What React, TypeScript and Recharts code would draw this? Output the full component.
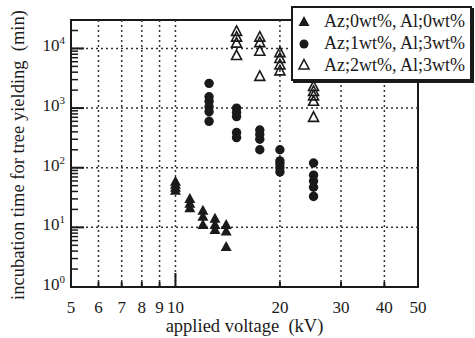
import { ScatterChart, Scatter, XAxis, YAxis, ReferenceLine, ReferenceArea } from "recharts";

// applied voltage (kV) vs incubation time (min)
const az0al0 = [
  { v: 10, t: 58 }, { v: 10, t: 52 }, { v: 10, t: 46 }, { v: 10, t: 41 },
  { v: 11, t: 30 }, { v: 11, t: 25 }, { v: 11, t: 21 },
  { v: 12, t: 19 }, { v: 12, t: 15 }, { v: 12, t: 11 },
  { v: 13, t: 14 }, { v: 13, t: 11 }, { v: 13, t: 9 },
  { v: 14, t: 11 }, { v: 14, t: 8.5 }, { v: 14, t: 4.7 },
];

const az1al3 = [
  { v: 12.5, t: 2600 }, { v: 12.5, t: 1550 }, { v: 12.5, t: 1300 }, { v: 12.5, t: 1050 }, { v: 12.5, t: 870 }, { v: 12.5, t: 600 },
  { v: 15, t: 1000 }, { v: 15, t: 850 }, { v: 15, t: 720 }, { v: 15, t: 390 }, { v: 15, t: 320 },
  { v: 17.5, t: 430 }, { v: 17.5, t: 360 }, { v: 17.5, t: 300 }, { v: 17.5, t: 200 },
  { v: 20, t: 200 }, { v: 20, t: 130 }, { v: 20, t: 115 }, { v: 20, t: 100 }, { v: 20, t: 85 },
  { v: 25, t: 120 }, { v: 25, t: 75 }, { v: 25, t: 60 }, { v: 25, t: 47 }, { v: 25, t: 33 },
];

const az2al3 = [
  { v: 15, t: 19300 }, { v: 15, t: 15500 }, { v: 15, t: 12300 }, { v: 15, t: 7600 },
  { v: 17.5, t: 15500 }, { v: 17.5, t: 12500 }, { v: 17.5, t: 9000 }, { v: 17.5, t: 3400 },
  { v: 20, t: 8500 }, { v: 20, t: 6800 }, { v: 20, t: 5300 }, { v: 20, t: 4200 },
  { v: 25, t: 2300 }, { v: 25, t: 1900 }, { v: 25, t: 1600 }, { v: 25, t: 1300 }, { v: 25, t: 700 },
];

const xTicks = [5, 6, 7, 8, 9, 10, 20, 30, 40, 50];
const xGrid = [6, 7, 8, 9, 10, 20, 30, 40];
const yMajor = [1, 10, 100, 1000, 10000];
const yMinor = [
  2, 3, 4, 5, 6, 7, 8, 9,
  20, 30, 40, 50, 60, 70, 80, 90,
  200, 300, 400, 500, 600, 700, 800, 900,
  2000, 3000, 4000, 5000, 6000, 7000, 8000, 9000,
  20000, 30000,
];
const yGrid = [10, 100, 1000, 10000];

const names = ["Az;0wt%, Al;0wt%", "Az;1wt%, Al;3wt%", "Az;2wt%, Al;3wt%"];

const ink = "#1a1a1a";
const font = "'Liberation Serif', 'Times New Roman', serif";

// plot frame edges (from the margins / axis sizes below)
const plotLeft = 71;
const plotBottom = 287;

const FilledTri = (p: any) => (
  <polygon points={`${p.cx},${p.cy - 6} ${p.cx + 5.5},${p.cy + 4} ${p.cx - 5.5},${p.cy + 4}`} fill={ink} />
);
const OpenTri = (p: any) => (
  <polygon points={`${p.cx},${p.cy - 5.5} ${p.cx + 5},${p.cy + 4} ${p.cx - 5},${p.cy + 4}`} fill="none" stroke={ink} strokeWidth={1.6} />
);
const Dot = (p: any) => <circle cx={p.cx} cy={p.cy} r={4.7} fill={ink} />;

const XTick = (p: any) => {
  const v = p.payload.value;
  const len = v === 10 ? 14 : v === 5 || v === 50 ? 0 : 5;
  return (
    <g>
      {len > 0 && <line x1={p.x} x2={p.x} y1={plotBottom} y2={plotBottom - len} stroke={ink} strokeWidth={2} />}
      <text x={p.x} y={plotBottom + 26} textAnchor="middle" fontSize={17} fontFamily={font} fill={ink}>
        {v}
      </text>
    </g>
  );
};

const YTick = (p: any) => {
  const v = p.payload.value;
  const e = Math.round(Math.log10(v));
  const major = yMajor.includes(v);
  return (
    <g>
      <line x1={plotLeft} x2={plotLeft + (major ? 13 : 7)} y1={p.y} y2={p.y} stroke={ink} strokeWidth={major ? 2 : 1.5} />
      {major && (
        <text x={plotLeft - 6} y={p.y + 3} textAnchor="end" fontSize={17} fontFamily={font} fill={ink}>
          10<tspan dy={-7} fontSize={11}>{e}</tspan>
        </text>
      )}
    </g>
  );
};

const LegendBox = () => (
  <div
    style={{
      position: "absolute",
      left: 291,
      top: 6,
      width: 177,
      height: 68,
      border: `2px solid ${ink}`,
      boxShadow: `2px 2px 0 ${ink}`,
      background: "#fff",
      fontFamily: font,
      fontSize: 18,
      color: ink,
      padding: "3px 0 0 0",
    }}
  >
    {names.map((n, i) => (
      <div key={n} style={{ display: "flex", alignItems: "center", height: 21.7 }}>
        <svg width={26} height={16} style={{ marginLeft: 1 }}>
          {i === 0 && <polygon points="10,2 15.5,12 4.5,12" fill={ink} />}
          {i === 1 && <circle cx={10} cy={8} r={4.5} fill={ink} />}
          {i === 2 && <polygon points="10,2.5 15,12 5,12" fill="none" stroke={ink} strokeWidth={1.6} />}
        </svg>
        <span style={{ marginLeft: 4, whiteSpace: "nowrap" }}>{n}</span>
      </div>
    ))}
  </div>
);

export default function App() {
  return (
    <div style={{ position: "absolute", left: 0, top: 0, width: 475, height: 338, background: "#fff" }}>
      <ScatterChart width={475} height={338} margin={{ top: 20, right: 57, bottom: 0, left: 0 }}>
        <XAxis
          dataKey="v"
          type="number"
          scale="log"
          domain={[5, 50]}
          ticks={xTicks}
          interval={0}
          allowDataOverflow
          tickLine={false}
          height={51}
          axisLine={{ stroke: ink, strokeWidth: 2 }}
          tick={XTick}
          label={{
            content: () => (
              <text x={(plotLeft + 418) / 2} y={plotBottom + 45} textAnchor="middle" fontSize={18.5} fontFamily={font} fill={ink}>
                applied voltage{"\u00a0\u00a0"}(kV)
              </text>
            ),
          }}
        />
        <YAxis
          dataKey="t"
          type="number"
          scale="log"
          domain={[1, 30000]}
          ticks={[...yMajor, ...yMinor]}
          interval={0}
          allowDataOverflow
          tickLine={false}
          width={71}
          axisLine={{ stroke: ink, strokeWidth: 2 }}
          tick={YTick}
          label={{
            content: () => {
              const cx = 18;
              const cy = 155;
              return (
                <text x={cx} y={cy} transform={`rotate(-90 ${cx} ${cy})`} textAnchor="middle" dominantBaseline="central" fontSize={18.5} fontFamily={font} fill={ink}>
                  incubation time for tree yielding{"\u00a0\u00a0"}(min)
                </text>
              );
            },
          }}
        />
        {xGrid.map((x) => (
          <ReferenceLine key={`gx${x}`} x={x} stroke="#333" strokeWidth={1.5} strokeDasharray="2 3" />
        ))}
        {yGrid.map((y) => (
          <ReferenceLine key={`gy${y}`} y={y} stroke="#333" strokeWidth={1.5} strokeDasharray="2 3" />
        ))}
        <ReferenceArea x1={5} x2={50} y1={1} y2={30000} fill="none" fillOpacity={0} stroke={ink} strokeWidth={2} />
        <Scatter name={names[0]} data={az0al0} shape={FilledTri} isAnimationActive={false} />
        <Scatter name={names[1]} data={az1al3} shape={Dot} isAnimationActive={false} />
        <Scatter name={names[2]} data={az2al3} shape={OpenTri} isAnimationActive={false} />
      </ScatterChart>
      <LegendBox />
    </div>
  );
}
